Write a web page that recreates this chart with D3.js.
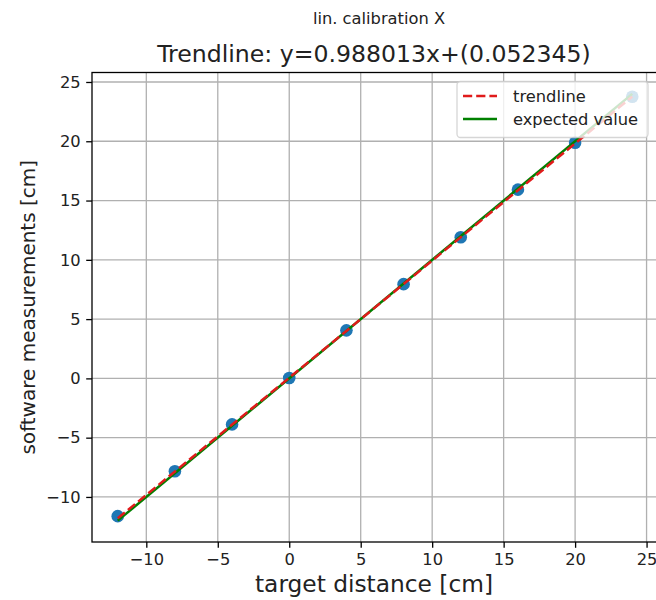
<!DOCTYPE html>
<html>
<head>
<meta charset="utf-8">
<script src="https://cdn.jsdelivr.net/npm/d3@7"></script>
<style>
	body { margin: 0; background: #fff; }
	svg { display: block; font-family: "DejaVu Sans", sans-serif; }
	.tick text { fill: #222; }
</style>
</head>
<body>
<div id="chart"></div>
<script>

// measured points
var targetX = [ -12, -8, -4, 0, 4, 8, 12, 16, 20, 24 ];
var measuredY = [ -11.62, -7.83, -3.88, 0.03, 4.05, 7.95, 11.9, 15.92, 19.87, 23.75 ];

// fitted line and y = x
var slope = 0.988013;
var intercept = 0.052345;
var lineX = [ -12, 24 ];

var xTicks = [ -10, -5, 0, 5, 10, 15, 20, 25 ];
var yTicks = [ -10, -5, 0, 5, 10, 15, 20, 25 ];

var legendLabels = [ 'trendline', 'expected value' ];

var width = 656,
	height = 600;

var plot = { left: 92, right: 658, top: 72.5, bottom: 542 };

var svg = d3.select( '#chart' ).append( 'svg' )
	.attr( 'width', width )
	.attr( 'height', height );

svg.append( 'rect' ).attr( 'width', width ).attr( 'height', height ).attr( 'fill', '#fff' );

var x = d3.scaleLinear().domain( [ -13.8, 25.8 ] ).range( [ plot.left, plot.right ] );
var y = d3.scaleLinear().domain( [ -13.8, 25.8 ] ).range( [ plot.bottom, plot.top ] );

// grid
var grid = svg.append( 'g' ).attr( 'stroke', '#b0b0b0' ).attr( 'stroke-width', 1.3 );
grid.selectAll( '.gx' ).data( xTicks ).enter().append( 'line' )
	.attr( 'x1', function ( d ) { return x( d ); } )
	.attr( 'x2', function ( d ) { return x( d ); } )
	.attr( 'y1', plot.top )
	.attr( 'y2', plot.bottom );
grid.selectAll( '.gy' ).data( yTicks ).enter().append( 'line' )
	.attr( 'y1', function ( d ) { return y( d ); } )
	.attr( 'y2', function ( d ) { return y( d ); } )
	.attr( 'x1', plot.left )
	.attr( 'x2', plot.right );

// scatter
svg.append( 'g' ).selectAll( 'circle' ).data( targetX ).enter().append( 'circle' )
	.attr( 'cx', function ( d ) { return x( d ); } )
	.attr( 'cy', function ( d, i ) { return y( measuredY[i] ); } )
	.attr( 'r', 6.3 )
	.attr( 'fill', '#1f77b4' );

var line = d3.line()
	.x( function ( d ) { return x( d[0] ); } )
	.y( function ( d ) { return y( d[1] ); } );

svg.append( 'path' )
	.datum( lineX.map( function ( v ) { return [ v, v ]; } ) )
	.attr( 'd', line )
	.attr( 'fill', 'none' )
	.attr( 'stroke', '#008000' )
	.attr( 'stroke-width', 2.5 );

svg.append( 'path' )
	.datum( lineX.map( function ( v ) { return [ v, slope * v + intercept ]; } ) )
	.attr( 'd', line )
	.attr( 'fill', 'none' )
	.attr( 'stroke', '#e01b1b' )
	.attr( 'stroke-width', 2.5 )
	.attr( 'stroke-dasharray', '9.2,4' );

// spines
svg.append( 'rect' )
	.attr( 'x', plot.left )
	.attr( 'y', plot.top )
	.attr( 'width', plot.right - plot.left )
	.attr( 'height', plot.bottom - plot.top )
	.attr( 'fill', 'none' )
	.attr( 'stroke', '#000' )
	.attr( 'stroke-width', 1.3 );

// axes
var xAxis = svg.append( 'g' )
	.attr( 'transform', 'translate(0,' + plot.bottom + ')' )
	.call( d3.axisBottom( x ).tickValues( xTicks ).tickSize( 5.8 ).tickPadding( 5.5 ) );
var yAxis = svg.append( 'g' )
	.attr( 'transform', 'translate(' + plot.left + ',0)' )
	.call( d3.axisLeft( y ).tickValues( yTicks ).tickSize( 5.8 ).tickPadding( 5.5 ) );

[ xAxis, yAxis ].forEach( function ( a ) {
	a.select( '.domain' ).remove();
	a.selectAll( '.tick line' ).attr( 'stroke', '#000' ).attr( 'stroke-width', 1.3 );
	a.selectAll( '.tick text' ).style( 'font-size', '16.3px' ).style( 'font-family', '"DejaVu Sans", sans-serif' );
} );

// legend
var legend = svg.append( 'g' );
legend.append( 'rect' )
	.attr( 'x', 457 )
	.attr( 'y', 81.5 )
	.attr( 'width', 191 )
	.attr( 'height', 56 )
	.attr( 'rx', 3.5 )
	.attr( 'fill', '#fff' )
	.attr( 'fill-opacity', 0.8 )
	.attr( 'stroke', '#cccccc' )
	.attr( 'stroke-opacity', 0.8 )
	.attr( 'stroke-width', 1.3 );

var legendStyles = [
	{ color: '#e01b1b', dash: '9.2,4' },
	{ color: '#008000', dash: null }
];

legendLabels.forEach( function ( label, i ) {
	var cy = 96 + i * 23;
	legend.append( 'line' )
		.attr( 'x1', 463 )
		.attr( 'x2', 497 )
		.attr( 'y1', cy )
		.attr( 'y2', cy )
		.attr( 'stroke', legendStyles[i].color )
		.attr( 'stroke-width', 2.5 )
		.attr( 'stroke-dasharray', legendStyles[i].dash );
	legend.append( 'text' )
		.attr( 'x', 513 )
		.attr( 'y', cy + 6 )
		.style( 'font-size', '16.3px' )
		.attr( 'fill', '#222' )
		.text( label );
} );

// titles
svg.append( 'text' )
	.attr( 'x', 379 )
	.attr( 'y', 24 )
	.attr( 'text-anchor', 'middle' )
	.style( 'font-size', '16.3px' )
	.attr( 'fill', '#222' )
	.text( 'lin. calibration X' );

svg.append( 'text' )
	.attr( 'x', ( plot.left + plot.right ) / 2 - 1 )
	.attr( 'y', 62 )
	.attr( 'text-anchor', 'middle' )
	.style( 'font-size', '23.6px' )
	.attr( 'fill', '#222' )
	.text( 'Trendline: y=' + slope.toFixed( 6 ) + 'x+(' + intercept.toFixed( 6 ) + ')' );

svg.append( 'text' )
	.attr( 'x', ( plot.left + plot.right ) / 2 - 1 )
	.attr( 'y', 592 )
	.attr( 'text-anchor', 'middle' )
	.style( 'font-size', '23.3px' )
	.attr( 'fill', '#222' )
	.text( 'target distance [cm]' );

svg.append( 'text' )
	.attr( 'transform', 'translate(35,' + ( plot.top + plot.bottom ) / 2 + ') rotate(-90)' )
	.attr( 'text-anchor', 'middle' )
	.style( 'font-size', '20px' )
	.attr( 'fill', '#222' )
	.text( 'software measurements [cm]' );

</script>
</body>
</html>
